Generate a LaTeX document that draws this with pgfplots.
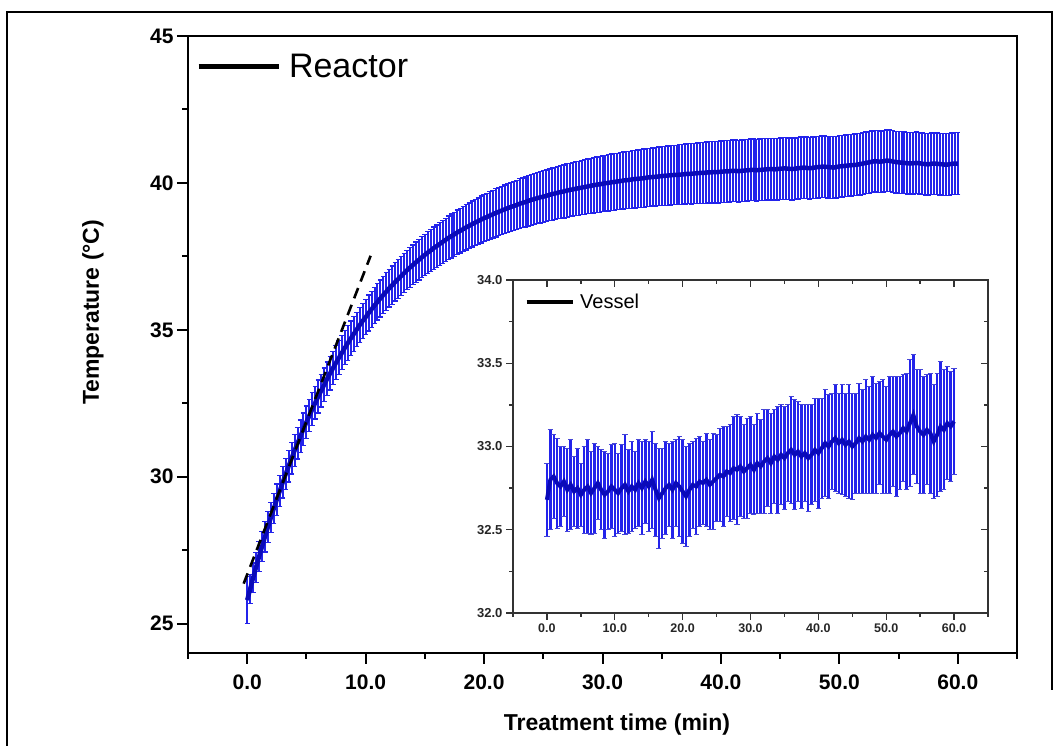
\documentclass[border=0pt]{standalone}
\usepackage{pgfplots}
\pgfplotsset{compat=1.18}
\usepackage{pgfplotstable}
\usepackage{fontspec}
\setmainfont{Liberation Sans}
\definecolor{barblue}{RGB}{35,35,235}
\definecolor{lineblue}{RGB}{10,10,185}
\definecolor{capblue}{RGB}{70,70,215}

\pgfplotstableread{
t y e
0 25.80 0.80
0.25 26.18 0.50
0.5 26.56 0.50
0.75 26.92 0.51
1 27.28 0.51
1.25 27.62 0.51
1.5 27.96 0.52
1.75 28.29 0.52
2 28.61 0.52
2.25 28.92 0.52
2.5 29.22 0.53
2.75 29.52 0.53
3 29.81 0.53
3.25 30.09 0.53
3.5 30.36 0.54
3.75 30.63 0.54
4 30.89 0.54
4.25 31.14 0.54
4.5 31.38 0.55
4.75 31.62 0.55
5 31.86 0.55
5.25 32.08 0.55
5.5 32.30 0.56
5.75 32.52 0.56
6 32.73 0.56
6.25 32.93 0.56
6.5 33.13 0.57
6.75 33.33 0.57
7 33.52 0.57
7.25 33.70 0.57
7.5 33.88 0.58
7.75 34.05 0.58
8 34.22 0.58
8.25 34.39 0.58
8.5 34.55 0.59
8.75 34.71 0.59
9 34.86 0.59
9.25 35.01 0.59
9.5 35.16 0.60
9.75 35.30 0.60
10 35.43 0.60
10.25 35.57 0.61
10.5 35.70 0.61
10.75 35.83 0.62
11 35.95 0.62
11.25 36.07 0.63
11.5 36.19 0.63
11.75 36.30 0.64
12 36.42 0.64
12.25 36.52 0.65
12.5 36.63 0.65
12.75 36.73 0.66
13 36.83 0.66
13.25 36.93 0.67
13.5 37.03 0.67
13.75 37.12 0.68
14 37.21 0.68
14.25 37.30 0.69
14.5 37.38 0.69
14.75 37.47 0.70
15 37.55 0.70
15.25 37.63 0.71
15.5 37.70 0.71
15.75 37.78 0.72
16 37.85 0.72
16.25 37.92 0.73
16.5 37.99 0.73
16.75 38.06 0.74
17 38.13 0.74
17.25 38.19 0.75
17.5 38.25 0.75
17.75 38.32 0.76
18 38.37 0.76
18.25 38.43 0.77
18.5 38.49 0.77
18.75 38.54 0.78
19 38.60 0.78
19.25 38.65 0.79
19.5 38.70 0.79
19.75 38.75 0.80
20 38.80 0.80
20.25 38.84 0.80
20.5 38.89 0.81
20.75 38.93 0.81
21 38.98 0.82
21.25 39.02 0.82
21.5 39.06 0.82
21.75 39.10 0.83
22 39.14 0.83
22.25 39.18 0.83
22.5 39.21 0.84
22.75 39.25 0.84
23 39.29 0.85
23.25 39.32 0.85
23.5 39.35 0.85
23.75 39.39 0.86
24 39.42 0.86
24.25 39.45 0.86
24.5 39.48 0.87
24.75 39.51 0.87
25 39.53 0.88
25.25 39.56 0.88
25.5 39.59 0.88
25.75 39.62 0.89
26 39.64 0.89
26.25 39.67 0.89
26.5 39.69 0.90
26.75 39.71 0.90
27 39.74 0.91
27.25 39.76 0.91
27.5 39.78 0.91
27.75 39.80 0.92
28 39.82 0.92
28.25 39.84 0.92
28.5 39.86 0.93
28.75 39.88 0.93
29 39.90 0.94
29.25 39.92 0.94
29.5 39.94 0.94
29.75 39.95 0.95
30 39.97 0.95
30.25 39.99 0.95
30.5 40.00 0.96
30.75 40.02 0.96
31 40.03 0.96
31.25 40.05 0.96
31.5 40.06 0.97
31.75 40.08 0.97
32 40.09 0.97
32.25 40.10 0.97
32.5 40.12 0.98
32.75 40.13 0.98
33 40.14 0.98
33.25 40.15 0.98
33.5 40.16 0.99
33.75 40.18 0.99
34 40.19 0.99
34.25 40.20 0.99
34.5 40.21 1.00
34.75 40.22 1.00
35 40.23 1.00
35.25 40.24 1.00
35.5 40.25 1.01
35.75 40.26 1.01
36 40.27 1.01
36.25 40.27 1.01
36.5 40.28 1.02
36.75 40.29 1.02
37 40.30 1.02
37.25 40.31 1.02
37.5 40.31 1.03
37.75 40.32 1.03
38 40.33 1.03
38.25 40.34 1.03
38.5 40.34 1.04
38.75 40.35 1.04
39 40.36 1.04
39.25 40.36 1.04
39.5 40.37 1.05
39.75 40.37 1.05
40 40.38 1.05
40.25 40.39 1.05
40.5 40.39 1.05
40.75 40.40 1.05
41 40.41 1.05
41.25 40.41 1.05
41.5 40.40 1.05
41.75 40.41 1.05
42 40.42 1.05
42.25 40.43 1.05
42.5 40.44 1.05
42.75 40.44 1.05
43 40.43 1.05
43.25 40.44 1.05
43.5 40.45 1.05
43.75 40.46 1.05
44 40.47 1.05
44.25 40.47 1.05
44.5 40.46 1.05
44.75 40.47 1.05
45 40.48 1.05
45.25 40.49 1.05
45.5 40.49 1.05
45.75 40.48 1.05
46 40.47 1.05
46.25 40.48 1.05
46.5 40.50 1.05
46.75 40.51 1.05
47 40.52 1.05
47.25 40.51 1.05
47.5 40.50 1.05
47.75 40.51 1.05
48 40.53 1.05
48.25 40.54 1.05
48.5 40.55 1.05
48.75 40.55 1.05
49 40.54 1.05
49.25 40.53 1.05
49.5 40.52 1.05
49.75 40.54 1.05
50 40.56 1.05
50.25 40.57 1.05
50.5 40.58 1.05
50.75 40.59 1.05
51 40.60 1.05
51.25 40.61 1.05
51.5 40.62 1.05
51.75 40.64 1.05
52 40.66 1.05
52.25 40.68 1.05
52.5 40.70 1.05
52.75 40.72 1.05
53 40.74 1.05
53.25 40.73 1.05
53.5 40.72 1.05
53.75 40.74 1.05
54 40.76 1.05
54.25 40.75 1.05
54.5 40.73 1.05
54.75 40.71 1.05
55 40.70 1.05
55.25 40.69 1.05
55.5 40.68 1.05
55.75 40.67 1.05
56 40.66 1.05
56.25 40.67 1.05
56.5 40.68 1.05
56.75 40.67 1.05
57 40.65 1.05
57.25 40.64 1.05
57.5 40.63 1.05
57.75 40.65 1.05
58 40.66 1.05
58.25 40.65 1.05
58.5 40.64 1.05
58.75 40.63 1.05
59 40.62 1.05
59.25 40.63 1.05
59.5 40.65 1.05
59.75 40.66 1.05
60 40.66 1.05
}\reactor

\pgfplotstableread{
t y e
0.0 32.68 0.22
0.5 32.80 0.30
1.0 32.82 0.25
1.5 32.78 0.27
2.0 32.76 0.24
2.5 32.79 0.21
3.0 32.74 0.25
3.5 32.77 0.27
4.0 32.73 0.21
4.5 32.75 0.24
5.0 32.71 0.19
5.5 32.74 0.26
6.0 32.76 0.28
6.5 32.72 0.25
7.0 32.75 0.27
7.5 32.78 0.22
8.0 32.74 0.24
8.5 32.71 0.26
9.0 32.73 0.23
9.5 32.76 0.25
10.0 32.74 0.28
10.5 32.72 0.24
11.0 32.75 0.26
11.5 32.77 0.30
12.0 32.73 0.25
12.5 32.76 0.27
13.0 32.74 0.23
13.5 32.78 0.26
14.0 32.75 0.28
14.5 32.79 0.25
15.0 32.76 0.27
15.5 32.80 0.29
16.0 32.74 0.28
16.5 32.69 0.30
17.0 32.72 0.27
17.5 32.75 0.28
18.0 32.77 0.25
18.5 32.74 0.29
19.0 32.78 0.26
19.5 32.76 0.30
20.0 32.73 0.31
20.5 32.70 0.30
21.0 32.74 0.28
21.5 32.77 0.26
22.0 32.76 0.29
22.5 32.79 0.27
23.0 32.78 0.25
23.5 32.80 0.28
24.0 32.77 0.27
24.5 32.79 0.29
25.0 32.81 0.26
25.5 32.83 0.28
26.0 32.82 0.30
26.5 32.85 0.27
27.0 32.84 0.29
27.5 32.87 0.31
28.0 32.86 0.33
28.5 32.88 0.30
29.0 32.85 0.28
29.5 32.87 0.30
30.0 32.89 0.29
30.5 32.86 0.27
31.0 32.90 0.30
31.5 32.88 0.28
32.0 32.91 0.31
32.5 32.93 0.29
33.0 32.90 0.30
33.5 32.94 0.28
34.0 32.92 0.32
34.5 32.95 0.30
35.0 32.93 0.31
35.5 32.96 0.29
36.0 32.98 0.32
36.5 32.95 0.33
37.0 32.97 0.30
37.5 32.94 0.31
38.0 32.96 0.29
38.5 32.93 0.32
39.0 32.95 0.30
39.5 32.98 0.31
40.0 32.96 0.33
40.5 32.99 0.30
41.0 33.02 0.32
41.5 33.00 0.31
42.0 33.03 0.29
42.5 33.05 0.32
43.0 33.02 0.30
43.5 33.04 0.33
44.0 33.01 0.31
44.5 33.03 0.34
45.0 33.00 0.32
45.5 33.02 0.30
46.0 33.05 0.33
46.5 33.03 0.31
47.0 33.06 0.34
47.5 33.04 0.32
48.0 33.07 0.35
48.5 33.05 0.33
49.0 33.08 0.31
49.5 33.06 0.34
50.0 33.04 0.32
50.5 33.07 0.35
51.0 33.09 0.33
51.5 33.06 0.36
52.0 33.08 0.34
52.5 33.11 0.32
53.0 33.09 0.35
53.5 33.14 0.38
54.0 33.19 0.36
54.5 33.12 0.34
55.0 33.09 0.37
55.5 33.07 0.35
56.0 33.10 0.33
56.5 33.08 0.36
57.0 33.03 0.34
57.5 33.07 0.37
58.0 33.12 0.39
58.5 33.10 0.36
59.0 33.14 0.34
59.5 33.12 0.33
60.0 33.15 0.32
}\vessel

\begin{document}
\begin{tikzpicture}[x=1pt,y=1pt]
\useasboundingbox (0,0) rectangle (1058,746);
\draw[line width=2pt] (7,0) -- (7,734) -- (1052,734) -- (1052,56);

% ---------- main axis ----------
\begin{axis}[
  at={(188pt,93pt)}, anchor=south west,
  scale only axis, width=829pt, height=617pt,
  xmin=-5, xmax=65, ymin=24, ymax=45,
  xtick={0,10,...,60}, minor xtick={-5,5,...,65},
  ytick={25,30,...,45}, minor ytick={27.5,32.5,37.5,42.5},
  tick pos=left, tick align=outside,
  major tick length=11pt, minor tick length=6pt,
  axis line style={line width=2pt, black},
  tick style={line width=2pt, black},
  /pgf/number format/assume math mode=true,
  xticklabel style={font=\fontsize{21}{24}\selectfont\bfseries, yshift=-7pt,
    /pgf/number format/.cd, fixed, fixed zerofill, precision=1},
  yticklabel style={font=\fontsize{21}{24}\selectfont\bfseries,
    /pgf/number format/.cd, fixed, precision=0},
  xlabel={Treatment time (min)},
  xlabel style={at={(axis description cs:0.5175,-0.1167)}, anchor=center,
    font=\fontsize{23}{26}\selectfont\bfseries},
  ylabel={Temperature (°C)},
  ylabel style={at={(axis description cs:-0.1146,0.552)}, anchor=center,
    font=\fontsize{23}{26}\selectfont\bfseries},
  legend style={at={(axis description cs:0.0097,0.951)}, anchor=west,
    draw=none, fill=none, inner sep=0pt, outer sep=0pt,
    font=\fontsize{34}{38}\selectfont, nodes={inner sep=0pt}},
  legend image code/.code={\draw[#1] (0pt,0pt) -- (80pt,0pt); \path (88pt,0pt);},
]
\addlegendimage{black, line width=5pt}
\addlegendentry{Reactor}
\addplot[barblue, line width=2pt, mark=none, forget plot,
  error bars/.cd, y dir=both, y explicit, error mark=|,
  error bar style={barblue, line width=2pt},
  error mark options={barblue, mark size=2.6pt, line width=1.3pt}]
  table[x=t, y=y, y error=e] {\reactor};
\addplot[lineblue, line width=4.5pt, mark=none, forget plot]
  table[x=t, y=y] {\reactor};
\addplot[black, line width=2.6pt, dash pattern=on 11pt off 7pt, forget plot]
  coordinates {(-0.3,26.36) (10.42,37.52)};
\end{axis}

% ---------- inset axis ----------
\begin{axis}[
  at={(513pt,133pt)}, anchor=south west,
  scale only axis, width=475pt, height=333pt,
  xmin=-5, xmax=65, ymin=32, ymax=34,
  axis background/.style={fill=white},
  xtick={0,10,...,60}, minor xtick={-5,5,...,65},
  ytick={32,32.5,...,34}, minor ytick={32.25,32.75,33.25,33.75},
  tick pos=left, tick align=outside,
  major tick length=7pt, minor tick length=4pt,
  axis line style={line width=1.3pt, black!80},
  tick style={line width=1.3pt, black!80},
  /pgf/number format/assume math mode=true,
  xticklabel style={font=\fontsize{12.5}{14}\selectfont\bfseries, text=black!85,
    /pgf/number format/.cd, fixed, fixed zerofill, precision=1},
  yticklabel style={font=\fontsize{13}{15}\selectfont\bfseries, text=black!85,
    /pgf/number format/.cd, fixed, fixed zerofill, precision=1},
  legend style={at={(axis description cs:0.0253,0.934)}, anchor=west,
    draw=none, fill=none, inner sep=0pt, outer sep=0pt,
    font=\fontsize{20}{24}\selectfont, nodes={inner sep=0pt}},
  legend image code/.code={\draw[#1] (0pt,0pt) -- (46pt,0pt); \path (52pt,0pt);},
]
\addlegendimage{black, line width=3.2pt}
\addlegendentry{Vessel}
\addplot[barblue, line width=2.4pt, mark=none, forget plot,
  error bars/.cd, y dir=both, y explicit, error mark=|,
  error bar style={barblue, line width=2.4pt},
  error mark options={capblue, mark size=2.6pt, line width=1.1pt}]
  table[x=t, y=y, y error=e] {\vessel};
\addplot[lineblue, line width=4pt, mark=none, forget plot]
  table[x=t, y=y] {\vessel};
\end{axis}

\begin{axis}[
  at={(513pt,133pt)}, anchor=south west,
  scale only axis, width=475pt, height=333pt,
  xmin=-5, xmax=65, ymin=32, ymax=34,
  xtick={0,10,...,60}, minor xtick={-5,5,...,65},
  ytick={32,32.5,...,34}, minor ytick={32.25,32.75,33.25,33.75},
  tick pos=right, tick align=inside,
  major tick length=7pt, minor tick length=4pt,
  axis line style={line width=1.3pt, black!80},
  tick style={line width=1.3pt, black!80},
  xticklabels={}, yticklabels={},
]
\end{axis}
\end{tikzpicture}
\end{document}
